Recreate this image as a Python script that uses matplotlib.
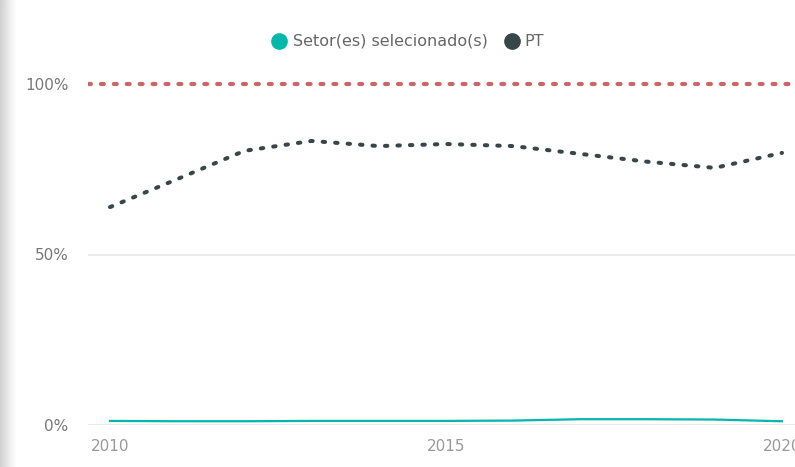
import matplotlib.pyplot as plt
from matplotlib.patches import Rectangle
from matplotlib.lines import Line2D
import numpy as np

years = [2010, 2011, 2012, 2013, 2014, 2015, 2016, 2017, 2018, 2019, 2020]
pt = [63.9, 72.1, 80.4, 83.3, 81.8, 82.4, 81.8, 79.5, 77.2, 75.4, 79.8]
setor = [1.2, 1.1, 1.1, 1.2, 1.2, 1.2, 1.3, 1.7, 1.7, 1.6, 1.1]
ref_level = 100
y_ticks = [0, 50, 100]
y_labels = ['0%', '50%', '100%']
x_ticks = [2010, 2015, 2020]

teal = '#01B8AA'
dark = '#374649'
red = '#CC6666'
grey_txt = '#777777'

fig = plt.figure(figsize=(7.95, 4.67), dpi=100)
W, H = 795, 467

# faixa cinza a esquerda
for i in range(14):
    g = 0.82 + i * 0.012
    fig.patches.append(Rectangle((i / W, 0), 1 / W, 1, transform=fig.transFigure,
                                 color=(g, g, g), zorder=0))

# eixo: x de 88 a 795 px, y de 70 a 425 px
ax = fig.add_axes([88 / W, (H - 425) / H, 707 / W, (425 - 70) / H])
ax.set_xlim(2010 - 22 / 67.2, 2010 + 685 / 67.2)
ax.set_ylim(0, 100 + 14 / 3.41)

for y in [0, 50]:
    ax.axhline(y, color='#E6E6E6', lw=1.2, zorder=1)

ax.axhline(ref_level, color=red, lw=3, linestyle=(0, (0.7, 2.4)),
           dash_capstyle='round', zorder=2)
ax.plot(years, pt, color=dark, lw=2.9, linestyle=(0, (0.6, 2.5)),
        dash_capstyle='round', zorder=3)
ax.plot(years, setor, color=teal, lw=1.6, zorder=3)

for s in ax.spines.values():
    s.set_visible(False)
ax.set_yticks(y_ticks)
ax.set_yticklabels(y_labels)
ax.set_xticks(x_ticks)
ax.set_xticklabels([str(x) for x in x_ticks])
ax.tick_params(axis='y', length=0, pad=14, labelsize=11, labelcolor=grey_txt)
ax.tick_params(axis='x', length=0, pad=10, labelsize=11, labelcolor='#999999')

# legenda
fig.add_artist(Line2D([279 / W], [1 - 41 / H], marker='o', markersize=11,
                      color=teal, transform=fig.transFigure))
fig.text(293 / W, 1 - 41 / H, 'Setor(es) selecionado(s)', fontsize=11.5,
         color='#666666', va='center', ha='left')
fig.add_artist(Line2D([512 / W], [1 - 41 / H], marker='o', markersize=11,
                      color=dark, transform=fig.transFigure))
fig.text(524 / W, 1 - 41 / H, 'PT', fontsize=11.5, color='#666666',
         va='center', ha='left')

fig.savefig('out.png', dpi=100)
